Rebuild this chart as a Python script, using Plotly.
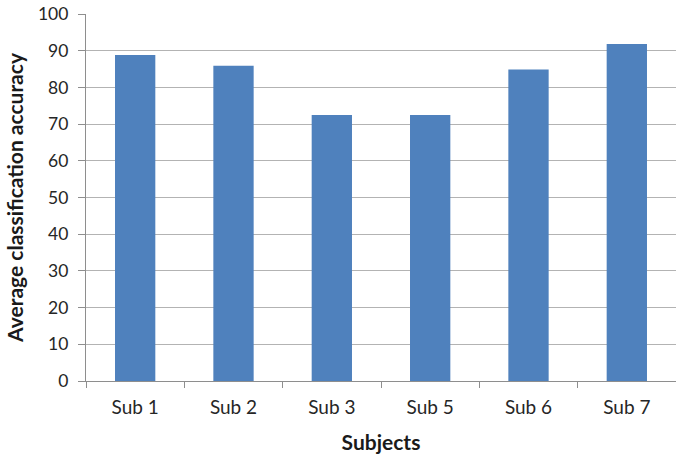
import plotly.graph_objects as go

subjects = ["Sub 1", "Sub 2", "Sub 3", "Sub 5", "Sub 6", "Sub 7"]
accuracy = [88.8, 85.9, 72.5, 72.5, 84.9, 91.8]
y_ticks = list(range(0, 101, 10))

FONT = "Lato, 'Open Sans', sans-serif"
GRID = "#b3b3b3"
AXIS = "#8e8e8e"

fig = go.Figure(
    go.Bar(
        x=subjects,
        y=accuracy,
        width=0.41,
        marker=dict(color="#4f81bd", line=dict(width=0)),
    )
)

fig.update_layout(
    width=676,
    height=461,
    margin=dict(l=86, r=0, t=14, b=80),
    paper_bgcolor="white",
    plot_bgcolor="white",
    showlegend=False,
    font=dict(family=FONT, size=15, color="#404040"),
)

fig.update_xaxes(
    range=[-0.5, 5.5],
    showline=True,
    linecolor=AXIS,
    linewidth=1.3,
    ticks="outside",
    tickson="boundaries",
    ticklen=6,
    tickcolor=AXIS,
    tickwidth=1.3,
    ticklabelstandoff=9,
    tickfont=dict(family=FONT, size=19, color="#262626"),
    showgrid=False,
    title=dict(
        text="<b>Subjects</b>",
        font=dict(family=FONT, size=21, color="#1a1a1a"),
        standoff=18,
    ),
)

fig.update_yaxes(
    range=[0, 100],
    tickvals=y_ticks,
    showline=True,
    linecolor=AXIS,
    linewidth=1.3,
    ticks="outside",
    ticklen=7,
    tickcolor=AXIS,
    tickwidth=1.3,
    ticklabelstandoff=6,
    tickfont=dict(family=FONT, size=17.5, color="#262626"),
    showgrid=True,
    gridcolor=GRID,
    gridwidth=1.3,
    zeroline=False,
    title=dict(
        text="<b>Average classification accuracy</b>",
        font=dict(family=FONT, size=21, color="#1a1a1a"),
        standoff=8,
    ),
)

fig.write_html("out.html")
